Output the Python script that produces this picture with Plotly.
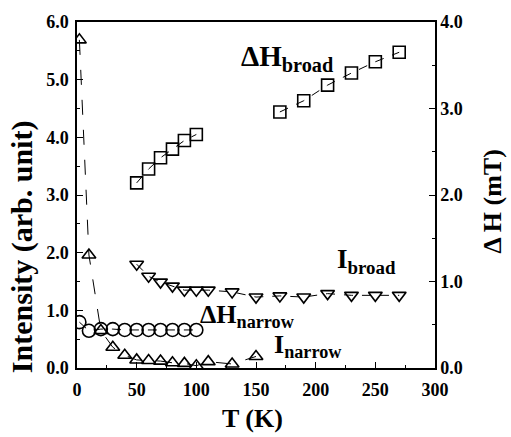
import plotly.graph_objects as go

# Data
T_dh_broad = [50, 60, 70, 80, 90, 100, 170, 190, 210, 230, 250, 270]
dh_broad = [2.14, 2.30, 2.43, 2.53, 2.63, 2.70, 2.96, 3.09, 3.27, 3.41, 3.54, 3.65]

T_i_broad = [50, 60, 70, 80, 90, 100, 110, 130, 150, 170, 190, 210, 230, 250, 270]
i_broad = [1.80, 1.59, 1.49, 1.42, 1.35, 1.35, 1.35, 1.32, 1.23, 1.25, 1.23, 1.29, 1.26, 1.26, 1.26]

T_dh_narrow = [2, 10, 20, 30, 40, 50, 60, 70, 80, 90, 100]
dh_narrow = [0.53, 0.43, 0.45, 0.45, 0.44, 0.44, 0.44, 0.44, 0.44, 0.44, 0.44]

T_i_narrow = [2, 10, 20, 30, 40, 50, 60, 70, 80, 90, 100, 110, 130, 150]
i_narrow = [5.69, 1.96, 0.65, 0.36, 0.22, 0.14, 0.13, 0.12, 0.09, 0.08, 0.04, 0.11, 0.07, 0.20]

FONT = "Liberation Serif"
BLACK = "black"

fig = go.Figure()

def add(x, y, sym, size, yaxis="y", dash="dash"):
    fig.add_trace(go.Scatter(
        x=x, y=y, mode="lines+markers", yaxis=yaxis,
        line=dict(color=BLACK, width=1, dash=dash),
        marker=dict(symbol=sym, size=size, color=BLACK,
                    line=dict(color=BLACK, width=1.6)),
        showlegend=False))

add(T_i_narrow, i_narrow, "triangle-up-open", 12, dash="longdash")
add(T_i_broad, i_broad, "triangle-down-open", 12)
add(T_dh_narrow, dh_narrow, "circle-open", 13, "y2")
# the broad-linewidth data come in two separate runs
add(T_dh_broad[:6], dh_broad[:6], "square-open", 12, "y2")
add(T_dh_broad[6:], dh_broad[6:], "square-open", 12, "y2")

tickfont = dict(family=FONT, size=18, color=BLACK, weight="bold")

common = dict(showline=True, linecolor=BLACK, linewidth=1.5,
              ticks="inside", ticklen=6, tickcolor=BLACK,
              showgrid=False, zeroline=False, tickfont=tickfont)

fig.update_layout(
    width=511, height=437,
    margin=dict(l=77, r=76, t=17, b=69),
    paper_bgcolor="white", plot_bgcolor="white",
    font=dict(family=FONT, color=BLACK),
    xaxis=dict(range=[0, 300], dtick=50, tick0=0, mirror=True,
               minor=dict(dtick=25, ticks="inside", ticklen=3, tickcolor=BLACK),
               ticklabelstandoff=5, **common),
    yaxis=dict(range=[0, 6], dtick=1, tickformat=".1f",
               minor=dict(dtick=0.5, ticks="inside", ticklen=3, tickcolor=BLACK),
               ticklabelstandoff=3, **common),
    yaxis2=dict(range=[0, 4], dtick=1, tickformat=".1f", overlaying="y", side="right",
                minor=dict(dtick=0.5, ticks="inside", ticklen=3, tickcolor=BLACK),
                ticklabelstandoff=0, **common),
)

# axis titles
def title(x, y, text, size, angle=0):
    fig.add_annotation(x=x, y=y, xref="paper", yref="paper", text=text, showarrow=False,
                       textangle=angle, xanchor="center", yanchor="middle",
                       font=dict(family=FONT, size=size, color=BLACK, weight="bold"))

title(-0.153, 0.35, "Intensity (arb. unit)", 30, -90)
title(1.162, 0.481, "Δ H (mT)", 26, -90)
title(0.489, -0.145, "T (K)", 26)

def ann(x, y, text, size):
    fig.add_annotation(x=x, y=y, xref="x", yref="y", text=text, showarrow=False,
                       font=dict(family=FONT, size=size, color=BLACK, weight="bold"),
                       xanchor="left", yanchor="middle")

ann(136, 5.38, "ΔH<sub>broad</sub>", 29)
ann(216, 1.86, "I<sub>broad</sub>", 27)
ann(101, 0.9, "ΔH<sub>narrow</sub>", 26)
ann(163, 0.38, "I<sub>narrow</sub>", 26)

fig.write_html("out.html")
